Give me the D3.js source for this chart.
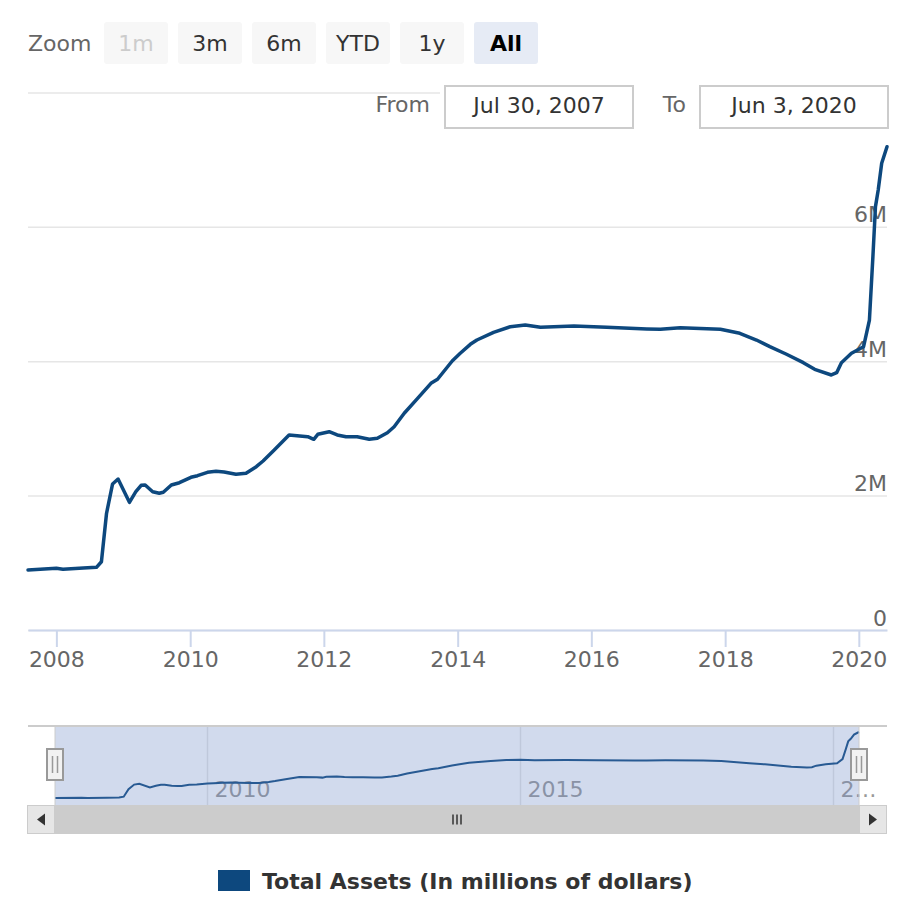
<!DOCTYPE html>
<html><head><meta charset="utf-8">
<script src="https://cdn.jsdelivr.net/npm/d3@7"></script>
<style>
body{margin:0;background:#fff}
svg{display:block;font-family:"DejaVu Sans",sans-serif}
</style>
</head><body>
<svg id="c" width="910" height="912"></svg>
<script>
// ---------- data ----------
const dates = ["2007-07-30","2008-01-01","2008-02-06","2008-05-27","2008-08-07","2008-09-03","2008-10-01","2008-11-03","2008-12-03",
"2009-02-03","2009-03-10","2009-04-08","2009-04-30","2009-06-10","2009-07-16","2009-08-07","2009-09-20","2009-11-03",
"2010-01-05","2010-02-10","2010-04-05","2010-05-22","2010-07-05","2010-09-08","2010-11-02","2010-12-28",
"2011-02-03","2011-04-05","2011-06-25","2011-10-05","2011-11-07","2011-11-29",
"2012-01-30","2012-03-14","2012-05-01","2012-07-01","2012-09-05","2012-10-19","2012-12-13",
"2013-01-19","2013-03-15","2013-05-27","2013-08-08","2013-09-13","2013-12-02",
"2014-01-15","2014-03-11","2014-04-16","2014-07-16","2014-10-15",
"2015-01-05","2015-03-29","2015-09-28","2016-03-25","2016-10-30","2017-01-12","2017-05-01","2017-12-06",
"2018-03-22","2018-06-21","2018-09-02","2018-12-02","2019-03-04","2019-05-05","2019-08-04","2019-09-02","2019-09-28","2019-11-22",
"2020-01-27","2020-02-28","2020-03-18","2020-04-01","2020-04-16","2020-05-05","2020-06-03"];
const totalAssets = [893000,918000,903000,923000,933000,1016000,1737000,2173000,2247000,
1900000,2058000,2153000,2158000,2058000,2034000,2049000,2158000,2192000,
2272000,2296000,2347000,2362000,2351000,2317000,2332000,2430000,
2515000,2679000,2902000,2876000,2838000,2912000,
2951000,2902000,2876000,2876000,2838000,2853000,2936000,
3025000,3225000,3448000,3671000,3731000,4003000,
4118000,4251000,4315000,4430000,4513000,
4539000,4504000,4524000,4504000,4479000,4475000,4499000,4475000,
4415000,4315000,4216000,4103000,3978000,3879000,3795000,3829000,3978000,4118000,
4216000,4613000,5555000,6300000,6548000,6945000,7192000];
const yGridValues = [0, 2000000, 4000000, 6000000, 8000000];
const yLabelValues = [0, 2000000, 4000000, 6000000];
const yTickLabels = ["0", "2M", "4M", "6M"];
const xTickYears = [2008, 2010, 2012, 2014, 2016, 2018, 2020];
const navTickYears = [2010, 2015, 2020];
const navTickLabels = ["2010", "2015", "2…"];
const zoomButtons = ["1m", "3m", "6m", "YTD", "1y", "All"];
const seriesName = "Total Assets (In millions of dollars)";
const rangeStart = "2007-07-30", rangeEnd = "2020-06-03";
const fromLabel = "Jul 30, 2007", toLabel = "Jun 3, 2020";

// ---------- setup ----------
const parse = d3.utcParse("%Y-%m-%d");
const data = dates.map((d, i) => ({date: parse(d), v: totalAssets[i]}));
const svg = d3.select("#c");
const color = "#0d487e";
const F = 22;

const x = d3.scaleUtc().domain([parse(rangeStart), parse(rangeEnd)]).range([28, 887]);
const y = d3.scaleLinear().domain([0, 8000000]).range([630, 92.4]);

// gridlines
svg.append("g").attr("transform", "translate(28,0)")
  .call(d3.axisLeft(y).tickValues(yGridValues).tickSize(-859).tickFormat(""))
  .call(g => g.select(".domain").remove())
  .call(g => g.selectAll("line").attr("stroke", "#e6e6e6").attr("stroke-width", 1.5));

// x axis
svg.append("g").attr("transform", "translate(0,630)")
  .call(d3.axisBottom(x).tickValues(xTickYears.map(yr => new Date(Date.UTC(yr, 0, 1))))
    .tickFormat(d3.utcFormat("%Y")).tickSize(17).tickSizeOuter(0).tickPadding(4))
  .call(g => g.select(".domain").attr("stroke", "#ccd6eb").attr("stroke-width", 2))
  .call(g => g.selectAll("line").attr("stroke", "#ccd6eb").attr("stroke-width", 2))
  .call(g => g.selectAll("text").attr("fill", "#666").style("font-size", F + "px").style("font-family", "DejaVu Sans"));

// y labels
svg.append("g").attr("transform", "translate(887,0)")
  .call(d3.axisLeft(y).tickValues(yLabelValues).tickSize(0).tickPadding(0)
    .tickFormat((d, i) => yTickLabels[i]))
  .call(g => g.select(".domain").remove())
  .call(g => g.selectAll("text").attr("fill", "#666").attr("dy", -5)
    .style("font-size", F + "px").style("font-family", "DejaVu Sans"));

// main line
svg.append("path").datum(data)
  .attr("fill", "none").attr("stroke", color).attr("stroke-width", 3.5)
  .attr("stroke-linejoin", "round").attr("stroke-linecap", "round")
  .attr("d", d3.line().x(d => x(d.date)).y(d => y(d.v)));

// ---------- range selector ----------
svg.append("text").attr("x", 28).attr("y", 51).attr("fill", "#666")
  .style("font-size", F + "px").text("Zoom");
const bw = 64, bgap = 10, bx0 = 104;
zoomButtons.forEach((b, i) => {
  const bx = bx0 + i * (bw + bgap);
  const sel = b === "All", dis = b === "1m";
  svg.append("rect").attr("x", bx).attr("y", 22).attr("width", bw).attr("height", 42)
    .attr("rx", 3).attr("fill", sel ? "#e6ebf5" : "#f7f7f7");
  svg.append("text").attr("x", bx + bw / 2).attr("y", 51).attr("text-anchor", "middle")
    .attr("fill", sel ? "#000" : dis ? "#cccccc" : "#333")
    .style("font-weight", sel ? "bold" : "normal").style("font-size", F + "px").text(b);
});
// cover behind inputs
svg.append("rect").attr("x", 440).attr("y", 84).attr("width", 460).attr("height", 46).attr("fill", "#fff");
svg.append("text").attr("x", 430).attr("y", 112).attr("text-anchor", "end").attr("fill", "#666")
  .style("font-size", F + "px").text("From");
svg.append("rect").attr("x", 445).attr("y", 86).attr("width", 188).attr("height", 42)
  .attr("fill", "#fff").attr("stroke", "#cccccc").attr("stroke-width", 2);
svg.append("text").attr("x", 539).attr("y", 113).attr("text-anchor", "middle").attr("fill", "#333")
  .style("font-size", F + "px").text(fromLabel);
svg.append("text").attr("x", 686).attr("y", 112).attr("text-anchor", "end").attr("fill", "#666")
  .style("font-size", F + "px").text("To");
svg.append("rect").attr("x", 700).attr("y", 86).attr("width", 188).attr("height", 42)
  .attr("fill", "#fff").attr("stroke", "#cccccc").attr("stroke-width", 2);
svg.append("text").attr("x", 794).attr("y", 113).attr("text-anchor", "middle").attr("fill", "#333")
  .style("font-size", F + "px").text(toLabel);

// ---------- navigator ----------
const nTop = 727, nBot = 805, nL = 55, nR = 859;
const nx = d3.scaleUtc().domain(x.domain()).range([nL, nR]);
const ny = d3.scaleLinear().domain(d3.extent(totalAssets)).range([798, 732]);
const nav = svg.append("g");
navTickYears.forEach((yr, i) => {
  const gx = Math.round(nx(new Date(Date.UTC(yr, 0, 1)))) + 0.5;
  nav.append("line").attr("x1", gx).attr("x2", gx).attr("y1", nTop).attr("y2", nBot)
    .attr("stroke", "#e6e6e6").attr("stroke-width", 1.5);
  nav.append("text").attr("x", gx + 7).attr("y", 797).attr("fill", "#999")
    .style("font-size", F + "px").text(navTickLabels[i]);
});
nav.append("path").datum(data).attr("fill", "none").attr("stroke", color).attr("stroke-width", 2)
  .attr("d", d3.line().x(d => nx(d.date)).y(d => ny(d.v)));
// mask
nav.append("rect").attr("x", nL).attr("y", nTop).attr("width", nR - nL).attr("height", nBot - nTop)
  .attr("fill", "rgba(102,133,194,0.3)");
// outline
nav.append("path").attr("fill", "none").attr("stroke", "#cccccc").attr("stroke-width", 2)
  .attr("d", `M28,${nTop - 1}H887`);
nav.append("path").attr("fill", "none").attr("stroke", "#cccccc").attr("stroke-width", 1)
  .attr("d", `M${nL},${nTop - 1}V${nBot}M${nR},${nTop - 1}V${nBot}`);
// handles
[nL, nR].forEach(hx => {
  nav.append("rect").attr("x", hx - 8).attr("y", 749).attr("width", 16).attr("height", 31)
    .attr("fill", "#f2f2f2").attr("stroke", "#999").attr("stroke-width", 2);
  nav.append("path").attr("stroke", "#999").attr("stroke-width", 1.5)
    .attr("d", `M${hx - 2.5},756V773M${hx + 2.5},756V773`);
});
// scrollbar
const sTop = 805, sH = 29;
nav.append("rect").attr("x", 27).attr("y", sTop).attr("width", 860).attr("height", sH).attr("fill", "#f2f2f2");
nav.append("rect").attr("x", nL).attr("y", sTop).attr("width", nR - nL).attr("height", sH).attr("fill", "#cccccc");
nav.append("rect").attr("x", 27.5).attr("y", sTop + 0.5).attr("width", 27).attr("height", sH - 1)
  .attr("fill", "#e6e6e6").attr("stroke", "#cccccc");
nav.append("rect").attr("x", nR + 0.5).attr("y", sTop + 0.5).attr("width", 27).attr("height", sH - 1)
  .attr("fill", "#e6e6e6").attr("stroke", "#cccccc");
const cy = sTop + sH / 2;
nav.append("path").attr("fill", "#333").attr("d", `M37,${cy}L45,${cy - 6}L45,${cy + 6}Z`);
nav.append("path").attr("fill", "#333").attr("d", `M877,${cy}L869,${cy - 6}L869,${cy + 6}Z`);
const mid = (nL + nR) / 2;
nav.append("path").attr("stroke", "#333").attr("stroke-width", 1.5)
  .attr("d", `M${mid - 4},${cy - 5}V${cy + 5}M${mid},${cy - 5}V${cy + 5}M${mid + 4},${cy - 5}V${cy + 5}`);

// ---------- legend ----------
svg.append("rect").attr("x", 218).attr("y", 870).attr("width", 32).attr("height", 21).attr("fill", color);
svg.append("text").attr("x", 262).attr("y", 889).attr("fill", "#333")
  .style("font-size", F + "px").style("font-weight", "bold").text(seriesName);
</script>
</body></html>
